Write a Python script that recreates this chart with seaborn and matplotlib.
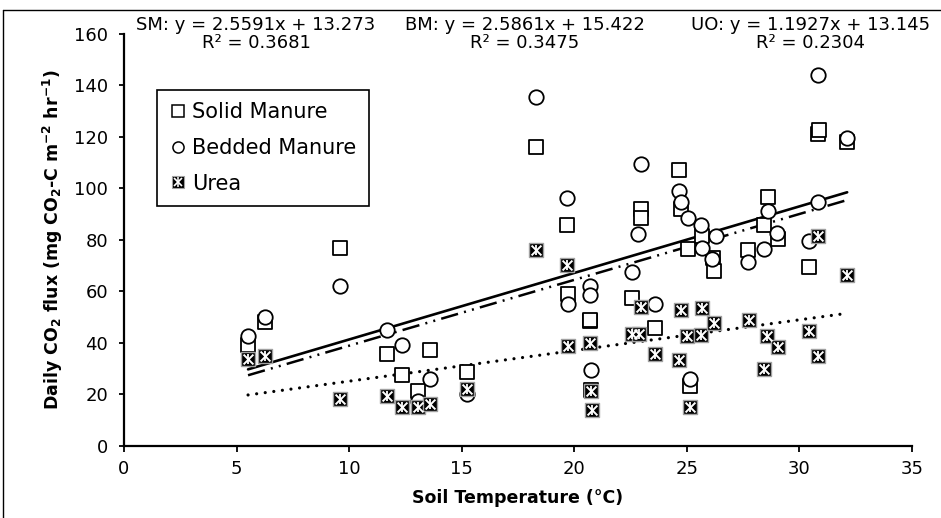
import numpy as np
import matplotlib
matplotlib.use("Agg")
import matplotlib.pyplot as plt
from matplotlib.lines import Line2D
import seaborn as sns

# ---------------- data ----------------
sm_x = [5.51, 6.28, 9.58, 11.68, 12.36, 13.08, 13.58, 15.24, 18.30, 19.68, 19.72,
        20.69, 20.72, 20.74, 22.55, 22.96, 22.96, 23.58, 24.66, 24.76, 25.05, 25.14,
        25.67, 26.15, 26.20, 27.73, 28.43, 28.60, 29.03, 30.42, 30.82, 30.86, 32.12]
sm_y = [39.2, 48.0, 77.0, 35.7, 27.6, 21.3, 37.3, 28.7, 116.0, 85.6, 59.0,
        48.3, 49.0, 21.5, 57.3, 91.9, 88.3, 45.8, 107.1, 91.9, 76.3, 23.1,
        81.5, 73.0, 67.8, 75.9, 85.7, 96.8, 80.5, 69.6, 121.0, 122.5, 118.0]

bm_x = [5.51, 6.28, 9.58, 11.68, 12.36, 13.08, 13.58, 15.24, 18.30, 19.68, 19.72,
        20.69, 20.69, 20.74, 22.56, 22.96, 22.85, 23.58, 24.66, 24.76, 25.05, 25.14,
        25.65, 25.69, 26.28, 26.13, 27.73, 28.43, 28.60, 29.00, 30.42, 30.82, 30.82, 32.12]
bm_y = [42.7, 50.0, 62.0, 44.8, 39.0, 17.5, 25.9, 20.0, 135.7, 96.1, 54.9,
        62.0, 58.4, 29.5, 67.4, 109.4, 82.1, 55.2, 99.0, 94.7, 88.4, 26.1,
        85.6, 77.0, 81.5, 72.7, 71.3, 76.3, 91.2, 82.5, 79.5, 144.1, 94.7, 119.5]

uo_x = [5.51, 6.28, 9.58, 11.68, 12.36, 13.08, 13.58, 15.24, 18.30, 19.68, 19.72,
        20.69, 20.74, 20.77, 22.56, 22.88, 22.96, 23.58, 24.66, 24.76, 25.00, 25.14,
        25.65, 25.69, 26.20, 27.75, 28.43, 28.58, 29.05, 30.42, 30.84, 30.84, 32.12]
uo_y = [33.7, 34.7, 18.1, 19.4, 14.9, 14.9, 16.1, 21.9, 76.0, 70.2, 38.7,
        39.9, 21.2, 13.7, 43.6, 43.6, 54.0, 35.8, 33.5, 52.6, 42.7, 15.2,
        42.9, 53.6, 47.7, 49.0, 29.9, 42.8, 38.5, 44.4, 81.5, 35.0, 66.2]

series_names = ["Solid Manure", "Bedded Manure", "Urea"]
fit_labels = ["SM", "BM", "UO"]
fit_slopes = [2.5591, 2.5861, 1.1927]
fit_intercepts = [13.273, 15.422, 13.145]
fit_r2 = ["0.3681", "0.3475", "0.2304"]

x_ticks = [0, 5, 10, 15, 20, 25, 30, 35]
y_ticks = [0, 20, 40, 60, 80, 100, 120, 140, 160]

# ---------------- style ----------------
sns.set_style("ticks")
plt.rcParams["font.family"] = ["DejaVu Sans"]
plt.rcParams["mathtext.fontset"] = "dejavusans"
plt.rcParams["text.color"] = "black"
plt.rcParams["axes.labelcolor"] = "black"
plt.rcParams["xtick.color"] = "black"
plt.rcParams["ytick.color"] = "black"

W, H = 941, 518
fig = plt.figure(figsize=(W / 100, H / 100), dpi=100)
left_px, right_px, top_px, bot_px = 124, 912, 34, 445.7
ax = fig.add_axes([left_px / W, 1 - bot_px / H, (right_px - left_px) / W, (bot_px - top_px) / H])

# markers
sns.scatterplot(x=sm_x, y=sm_y, marker="s", s=112, color="white", edgecolor="black",
                linewidth=1.3, ax=ax, zorder=3)
sns.scatterplot(x=bm_x, y=bm_y, marker="o", s=108, color="white", edgecolor="black",
                linewidth=1.3, ax=ax, zorder=4)
sns.scatterplot(x=uo_x, y=uo_y, marker="s", s=112, color="black", edgecolor="#a0a0a0",
                linewidth=1.0, ax=ax, zorder=5)
ax.scatter(uo_x, uo_y, marker="x", s=50, color="white", linewidths=1.4, zorder=6)
ax.scatter(uo_x, uo_y, marker="|", s=62, color="white", linewidths=1.3, zorder=6)

# trend lines
styles = {
    "SM": dict(linestyle=(0, (7, 2.5, 0.8, 2.5, 0.8, 2.5)), lw=1.8, dash_capstyle="butt"),
    "BM": dict(linestyle="-", lw=1.9),
    "UO": dict(linestyle=(0, (0.01, 2.7)), lw=2.3, dash_capstyle="round"),
}
for lab, m, b, xs in zip(fit_labels, fit_slopes, fit_intercepts, [sm_x, bm_x, uo_x]):
    xr = np.array([min(xs), max(xs)])
    ax.plot(xr, m * xr + b, color="black", zorder=2, **styles[lab])

# axes
ax.set_xlim(0, 35)
ax.set_ylim(0, 160)
ax.set_xticks(x_ticks)
ax.set_yticks(y_ticks)
ax.tick_params(axis="y", direction="out", length=3.5, width=1.3, pad=8, labelsize=13,
               colors="black", labelcolor="black")
ax.tick_params(axis="x", direction="out", length=4, width=1.3, pad=6, labelsize=13,
               colors="black", labelcolor="black")
for side in ["top", "right"]:
    ax.spines[side].set_visible(False)
for side in ["left", "bottom"]:
    ax.spines[side].set_linewidth(1.6)
    ax.spines[side].set_color("black")

ax.set_xlabel("Soil Temperature (°C)", fontsize=12.5, fontweight="bold", color="black")
ax.set_ylabel(r"Daily CO$_\mathbf{2}$ flux (mg CO$_\mathbf{2}$-C m$^\mathbf{-2}$ hr$^\mathbf{-1}$)",
              fontsize=12.5, fontweight="bold", color="black")
ax.xaxis.set_label_coords(0.5, -0.105)
ax.yaxis.set_label_coords(-0.075, 0.5)

# equations
centers = [256, 525, 811]
for c, lab, m, b, r2 in zip(centers, fit_labels, fit_slopes, fit_intercepts, fit_r2):
    fig.text(c / W, 1 - 25 / H, f"{lab}: y = {m}x + {b}", ha="center", va="center",
             fontsize=13, color="black")
    fig.text(c / W, 1 - 43 / H, f"R² = {r2}", ha="center", va="center",
             fontsize=13, color="black")

# legend
h_sm = Line2D([], [], marker="s", ls="none", ms=8, mfc="white", mec="black", mew=1.1)
h_bm = Line2D([], [], marker="o", ls="none", ms=8, mfc="white", mec="black", mew=1.1)
h_u1 = Line2D([], [], marker="s", ls="none", ms=8.5, mfc="black", mec="#a0a0a0", mew=0.8)
h_u2 = Line2D([], [], marker="x", ls="none", ms=6, mec="white", mew=1.2)
h_u3 = Line2D([], [], marker="|", ls="none", ms=6.5, mec="white", mew=1.1)
leg = ax.legend([h_sm, h_bm, (h_u1, h_u2, h_u3)], series_names,
                loc="upper left", bbox_to_anchor=(157 / W, 1 - 90 / H),
                bbox_transform=fig.transFigure, fontsize=15, frameon=True,
                fancybox=False, framealpha=1, edgecolor="black",
                handlelength=0.8, handletextpad=0.3, labelspacing=0.75,
                borderpad=0.6, borderaxespad=0)
leg.get_frame().set_linewidth(1.2)
for t in leg.get_texts():
    t.set_color("black")

# outer figure border (cropped in the reference)
fig.add_artist(Line2D([3 / W, 3 / W], [0, 1 - 10 / H], transform=fig.transFigure, color="black", lw=1))
fig.add_artist(Line2D([3 / W, 1], [1 - 10 / H, 1 - 10 / H], transform=fig.transFigure, color="black", lw=1))

fig.savefig("out.png", dpi=100)
